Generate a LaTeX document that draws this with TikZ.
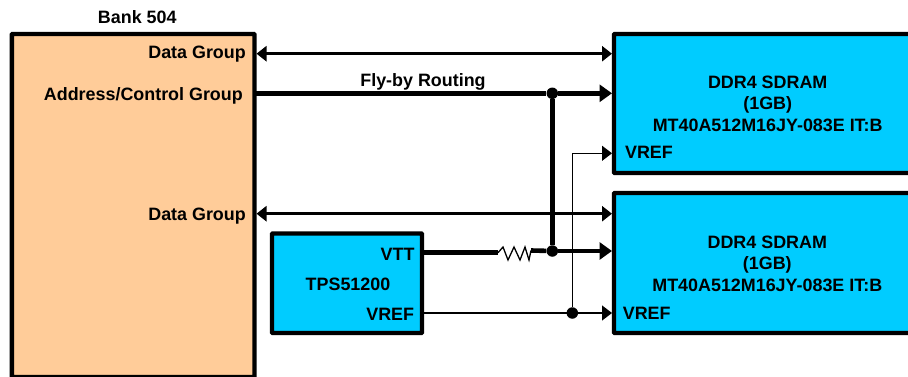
\documentclass[tikz,border=0pt]{standalone}
\usepackage{fontspec}
\setmainfont{Liberation Sans}
\usetikzlibrary{arrows.meta,positioning}
\definecolor{bankfill}{RGB}{255,204,153}
\definecolor{chipfill}{RGB}{0,204,255}
\tikzset{
  x=1pt,y=-1pt,
  box/.style={draw=black,line width=4.4pt,rounded corners=0.8pt},
  lbl/.style={font=\bfseries\fontsize{17.9}{20}\selectfont,text=black,inner sep=0pt},
  thinw/.style={line width=1.2pt},
  medw/.style={line width=2.6pt},
  thickw/.style={line width=4.6pt},
  tipa/.style={-{Triangle[length=12.5pt,width=17pt]}},
  tipc/.style={-{Triangle[length=10pt,width=15pt]}},
  tipb/.style={{Triangle[length=10pt,width=15pt]}-{Triangle[length=10pt,width=15pt]}},
  dotn/.style={circle,fill=black,inner sep=0pt,minimum size=11.5pt},
}
\begin{document}
\begin{tikzpicture}
\useasboundingbox (0,0) rectangle (908,377);
\draw[box,fill=bankfill] (11.8,34) rectangle (254.5,377);
\draw[box,fill=chipfill] (614,34) rectangle (912,173);
\draw[box,fill=chipfill] (614,193) rectangle (912,333);
\draw[box,fill=chipfill] (272,233.5) rectangle (422,333);
\coordinate (bd1) at (256.5,53.7);
\coordinate (bd2) at (256.5,213.7);
\coordinate (ba) at (256,93.3);
\coordinate (d1) at (612,53.7);
\coordinate (d2) at (612,213.7);
\coordinate (da) at (612,93.3);
\coordinate (dv) at (612,251);
\coordinate (vr1) at (612,153.3);
\coordinate (vr2) at (612,313);
\coordinate (vtt) at (424,252.7);
\coordinate (vref) at (424,313);
\coordinate (r1) at (498,252.7);
\coordinate (r2) at (531,250.5);
\node[dotn] (j1) at (552.3,93.3) {};
\node[dotn] (j2) at (552.3,251) {};
\node[dotn] (j3) at (572.3,313) {};
\coordinate (tv) at (572.3,153.3);
\draw[medw,tipb] (bd1) -- (d1);
\draw[medw,tipb] (bd2) -- (d2);
\draw[thickw] (ba) -- (j1);
\draw[thickw,tipa] (j1) -- (da);
\draw[thickw] (j1) -- (j2);
\draw[thickw] (vtt) -- (r1);
\draw[line width=1.3pt,line join=miter] (r1) -- (503,247) -- (508,260) -- (514,247) -- (520,260) -- (525,247) -- (529,260) -- (r2);
\draw[thickw] (r2) -- (j2);
\draw[thickw,tipa] (j2) -- (dv);
\draw[thinw,tipc] (vref) -- (vr2);
\draw[thinw] (j3) -- (tv);
\draw[thinw,tipc] (tv) -- (vr1);
\node[lbl] (t0) at (137.3,17) {Bank 504};
\node[lbl,anchor=east] (t1) at (246,54.5) {Data Group};
\node[lbl,anchor=east] (t2) at (243,95.5) {Address/Control Group};
\node[lbl,anchor=east] (t3) at (246,216.5) {Data Group};
\node[lbl] (t4) at (423,81.5) {Fly-by Routing};
\node[lbl] (t5) at (767.7,82) {DDR4 SDRAM};
\node[lbl] (t6) at (767.7,104.5) {(1GB)};
\node[lbl] (t7) at (767.7,125) {MT40A512M16JY-083E IT:B};
\node[lbl] (t8) at (649,152) {VREF};
\node[lbl] (t9) at (767.3,242) {DDR4 SDRAM};
\node[lbl] (t10) at (767.3,265) {(1GB)};
\node[lbl] (t11) at (767.3,285) {MT40A512M16JY-083E IT:B};
\node[lbl] (t12) at (646.7,313) {VREF};
\node[lbl,anchor=east] (t13) at (414.7,254) {VTT};
\node[lbl] (t14) at (348,284) {TPS51200};
\node[lbl,anchor=east] (t15) at (414.3,314) {VREF};
\end{tikzpicture}
\end{document}
